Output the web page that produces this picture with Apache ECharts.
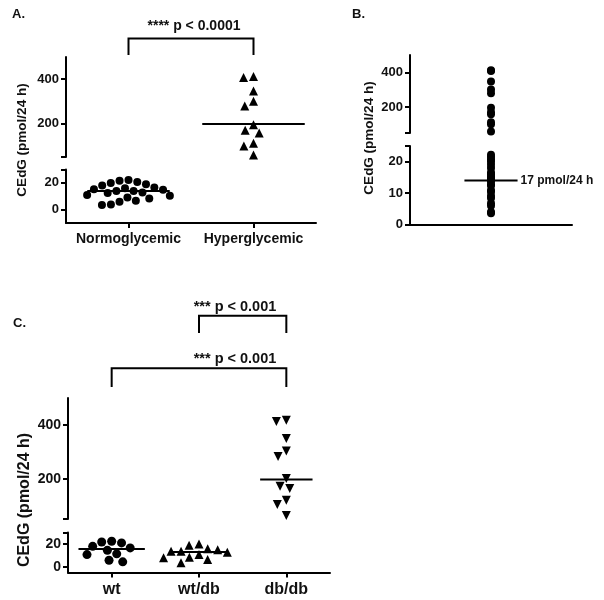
<!DOCTYPE html>
<html>
<head>
<meta charset="utf-8">
<script src="https://cdn.jsdelivr.net/npm/echarts@6/dist/echarts.min.js"></script>
<style>html,body{margin:0;padding:0;background:#fff}#c{width:604px;height:600px}</style>
</head>
<body>
<div id="c"></div>
<script>
// ---------------- data ----------------
const catsA = ['Normoglycemic', 'Hyperglycemic'];
const normoA = [22.2, 21.5, 20.7, 20.0, 19.0, 18.0, 16.5, 16.0, 15.3, 14.8, 14.0, 14.0, 12.8, 12.4, 10.9, 10.4, 9.1, 8.4, 6.7, 5.9, 3.9, 3.5];
const hyperA = [412, 408, 347, 301, 279, 195, 170, 158, 112, 100, 59];
const mediansA = [14, 198];

const catsB = [''];
const allB = normoA.concat(hyperA);
const mediansB = [14];
const medianLabelB = '17 pmol/24 h';

const catsC = ['wt', 'wt/db', 'db/db'];
const wtC = [22.3, 21.7, 20.9, 17.9, 16.5, 14.4, 11.3, 10.7, 5.7, 4.3];
const wtdbC = [20.0, 18.8, 15.7, 15.0, 13.6, 13.6, 12.7, 10.7, 8.3, 7.8, 6.3, 3.5];
const dbdbC = [417, 413, 349, 303, 282, 201, 172, 163, 120, 104, 63];
const mediansC = [15.6, 13, 197];

const upperTicks = [200, 400];
const lowerTicksA = [0, 20];
const lowerTicksB = [0, 10, 20];
const lowerTicksC = [0, 20];

const yTitle = 'CEdG (pmol/24 h)';
const pTextA = '**** p < 0.0001';
const pTextC1 = '*** p < 0.001';
const pTextC2 = '*** p < 0.001';

// ---------------- layout ----------------
const FF = '"Liberation Sans", Arial, sans-serif';
const panels = [
  { cats: catsA, left: 66, width: 250, xmin: -0.5, xmax: 1.5,
    up: { top: 57, height: 100, min: 50, max: 500 },
    low: { top: 169.5, height: 53.5, min: -10, max: 30 },
    lowTicks: lowerTicksA, tickFs: 13, catFs: 14, xTicks: true,
    groups: [
      { values: normoA, symbol: 'circle', size: 8, rot: 0, median: mediansA[0], hw: 0.33, swarm: true },
      { values: hyperA, symbol: 'triangle', size: 9, rot: 0, median: mediansA[1], hw: 0.41, swarm: true }
    ] },
  { cats: catsB, left: 410, width: 162, xmin: -0.5, xmax: 0.5,
    up: { top: 55, height: 78, min: 50, max: 500 },
    low: { top: 146, height: 78.3, min: 0, max: 25 },
    lowTicks: lowerTicksB, tickFs: 13, catFs: 13, xTicks: false,
    groups: [
      { values: allB, symbol: 'circle', size: 8, rot: 0, median: mediansB[0], hw: 0.164, swarm: false, label: medianLabelB }
    ] },
  { cats: catsC, left: 68, width: 262, xmin: -0.5, xmax: 2.5,
    up: { top: 398, height: 121, min: 50, max: 500 },
    low: { top: 532.5, height: 40, min: -5, max: 30 },
    lowTicks: lowerTicksC, tickFs: 14, catFs: 16, xTicks: true,
    groups: [
      { values: wtC, symbol: 'circle', size: 9, rot: 0, median: mediansC[0], hw: 0.38, swarm: true },
      { values: wtdbC, symbol: 'triangle', size: 9, rot: 0, median: mediansC[1], hw: 0.33, swarm: true },
      { values: dbdbC, symbol: 'triangle', size: 9, rot: 180, median: mediansC[2], hw: 0.3, swarm: true }
    ] }
];

// pixel y of a value in a panel (for swarm collision only)
function pixY(p, v) {
  const s = v >= p.up.min ? p.up : p.low;
  return s.top + s.height * (s.max - v) / (s.max - s.min);
}
// simple beeswarm: returns x offsets in category units
function swarm(p, values, D) {
  const pxPerX = p.width / (p.xmax - p.xmin);
  const order = values.map((v, i) => i).sort((a, b) => values[b] - values[a]);
  const placed = [];
  const off = new Array(values.length).fill(0);
  order.forEach(i => {
    const y = pixY(p, values[i]);
    const cands = [0];
    placed.forEach(q => {
      const dy = Math.abs(q.y - y);
      if (dy < D) { const dx = Math.sqrt(D * D - dy * dy); cands.push(q.x + dx, q.x - dx); }
    });
    cands.sort((a, b) => Math.abs(a) - Math.abs(b) || a - b);
    let best = 0;
    for (const c of cands) {
      if (placed.every(q => (q.x - c) ** 2 + (q.y - y) ** 2 >= D * D - 0.01)) { best = c; break; }
    }
    placed.push({ x: best, y: y });
    off[i] = best / pxPerX;
  });
  return off;
}

const grids = [], xAxes = [], yAxes = [], series = [];
const axisLineStyle = { color: '#000', width: 2 };
const txt = { color: '#111', fontFamily: FF, fontWeight: 'bold' };

panels.forEach((p, pi) => {
  const gUp = pi * 2, gLow = pi * 2 + 1;
  grids.push({ left: p.left, top: p.up.top, width: p.width, height: p.up.height, containLabel: false, outerBoundsMode: 'none' });
  grids.push({ left: p.left, top: p.low.top, width: p.width, height: p.low.height, containLabel: false, outerBoundsMode: 'none' });
  xAxes.push({ type: 'value', gridIndex: gUp, min: p.xmin, max: p.xmax, show: false });
  xAxes.push({ type: 'value', gridIndex: gLow, min: p.xmin, max: p.xmax,
    axisLine: { show: true, onZero: false, lineStyle: axisLineStyle },
    axisTick: { show: p.xTicks, length: 5, lineStyle: axisLineStyle, customValues: p.cats.map((c, i) => i) },
    axisLabel: { show: p.xTicks, customValues: p.cats.map((c, i) => i), formatter: v => p.cats[Math.round(v)],
      fontSize: p.catFs, margin: 9, ...txt },
    splitLine: { show: false } });
  yAxes.push({ type: 'value', gridIndex: gUp, min: p.up.min, max: p.up.max,
    axisLine: { show: true, onZero: false, lineStyle: axisLineStyle },
    axisTick: { show: true, length: 5, lineStyle: axisLineStyle, customValues: [p.up.min].concat(upperTicks) },
    axisLabel: { customValues: upperTicks, fontSize: p.tickFs, margin: 7, ...txt },
    splitLine: { show: false } });
  yAxes.push({ type: 'value', gridIndex: gLow, min: p.low.min, max: p.low.max,
    axisLine: { show: true, onZero: false, lineStyle: axisLineStyle },
    axisTick: { show: true, length: 5, lineStyle: axisLineStyle, customValues: p.lowTicks.concat([p.low.max]) },
    axisLabel: { customValues: p.lowTicks, fontSize: p.tickFs, margin: 7, ...txt },
    splitLine: { show: false } });

  p.groups.forEach((g, gi) => {
    const offs = g.swarm ? swarm(p, g.values, g.size + 1) : g.values.map(() => 0);
    const upData = [], lowData = [];
    g.values.forEach((v, i) => {
      (v >= p.up.min ? upData : lowData).push([gi + offs[i], v]);
    });
    const base = { type: 'scatter', symbol: g.symbol, symbolSize: g.size, symbolRotate: g.rot,
      itemStyle: { color: '#000', opacity: 1 }, silent: true, z: 3 };
    if (upData.length) series.push({ ...base, xAxisIndex: gUp, yAxisIndex: gUp, data: upData });
    if (lowData.length) series.push({ ...base, xAxisIndex: gLow, yAxisIndex: gLow, data: lowData });
    const mg = g.median >= p.up.min ? gUp : gLow;
    const ml = { type: 'line', xAxisIndex: mg, yAxisIndex: mg, symbol: 'none', silent: true, z: 4,
      lineStyle: { color: '#000', width: 2 },
      data: [[gi - g.hw, g.median], [gi + g.hw, g.median]] };
    if (g.label) {
      ml.endLabel = { show: true, formatter: g.label, distance: 3, fontSize: 12, ...txt };
    }
    series.push(ml);
  });
});

const chart = echarts.init(document.getElementById('c'), null, { renderer: 'canvas' });
chart.setOption({ animation: false, backgroundColor: '#fff', grid: grids, xAxis: xAxes, yAxis: yAxes, series: series });

// annotations anchored to the axes
function cx(axisIdx, v) { return chart.convertToPixel({ xAxisIndex: axisIdx }, v); }
function bracket(x1, x2, yBar, yLeg) {
  return { type: 'polyline', shape: { points: [[x1, yLeg], [x1, yBar], [x2, yBar], [x2, yLeg]] },
    style: { stroke: '#000', lineWidth: 2, fill: null }, silent: true };
}
function text(s, x, y, size, rot, align) {
  return { type: 'text', x: x, y: y, rotation: rot || 0, silent: true,
    style: { text: s, font: 'bold ' + size + 'px ' + FF, fill: '#111', align: align || 'center', verticalAlign: 'middle' } };
}
const graphics = [
  text('A.', 12, 14, 13, 0, 'left'),
  text('B.', 352, 14, 13, 0, 'left'),
  text('C.', 13, 323, 13, 0, 'left'),
  text(yTitle, 22, 140, 13.5, Math.PI / 2),
  text(yTitle, 369, 138, 13.5, Math.PI / 2),
  text(yTitle, 25, 500, 16, Math.PI / 2),
  bracket(cx(1, 0), cx(1, 1), 38.5, 55),
  text(pTextA, 194, 26, 14),
  bracket(cx(5, 1), cx(5, 2), 315.7, 333),
  text(pTextC1, 235, 307, 14.5),
  bracket(cx(5, 0), cx(5, 2), 368.3, 387),
  text(pTextC2, 235, 358.5, 14.5)
];
chart.setOption({ graphic: graphics });
</script>
</body>
</html>
